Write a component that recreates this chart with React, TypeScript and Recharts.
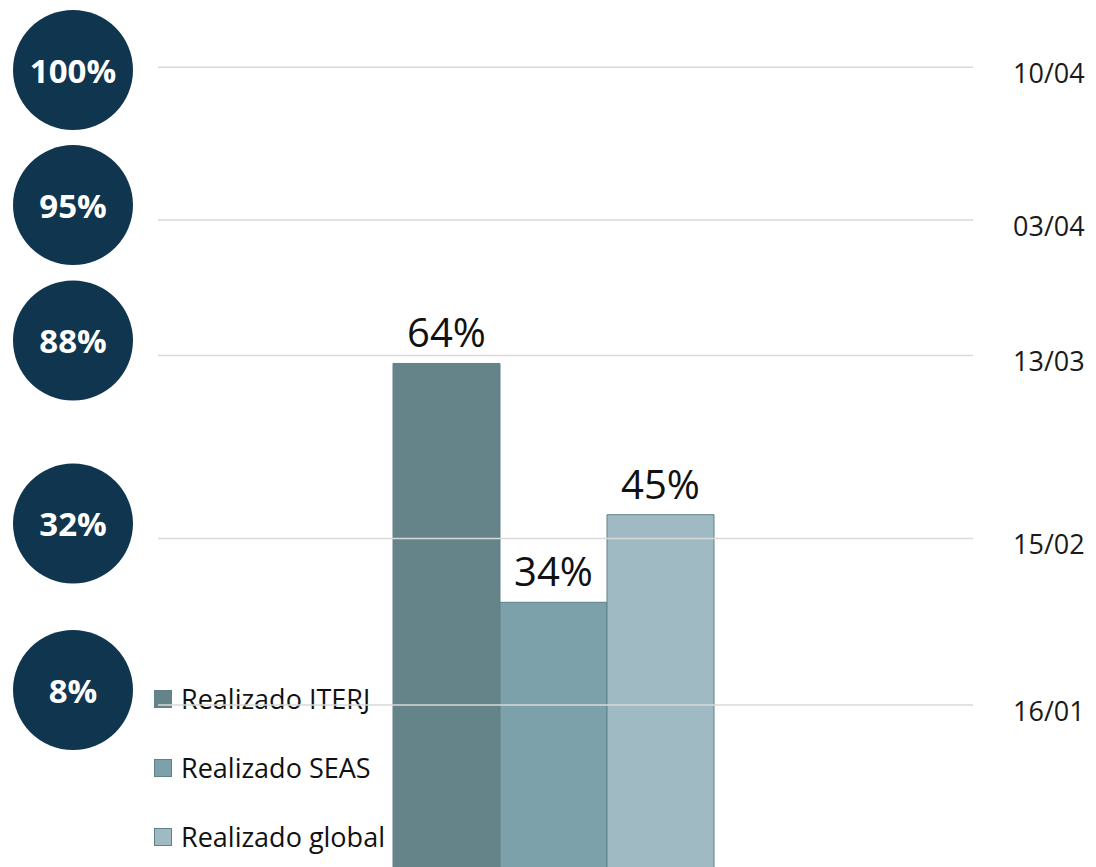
import React from 'react';
import { BarChart, Bar, XAxis, YAxis, ReferenceLine, LabelList, Legend } from 'recharts';

const categories = ['Realizado'];
const iterjValues = [64];
const seasValues = [34];
const globalValues = [45];
const seriesKeys = ['iterj', 'seas', 'global'];
const seriesNames = ['Realizado ITERJ', 'Realizado SEAS', 'Realizado global'];
const seriesColors = ['#658489', '#7ca1aa', '#9fbac2'];

const milestoneTargets = ['100%', '95%', '88%', '32%', '8%'];
const milestoneDates = ['10/04', '03/04', '13/03', '15/02', '16/01'];
const milestoneLevels = [101.2, 82, 65, 42, 21.1];

const data = categories.map((c, i) => ({
  name: c,
  iterj: iterjValues[i],
  seas: seasValues[i],
  global: globalValues[i],
}));

const FONT = "'Open Sans', sans-serif";
const R = 60;

const MilestoneLabel = (props: any) => {
  const { viewBox, target, date } = props;
  if (!viewBox) return null;
  const { x, y, width } = viewBox;
  const cx = x - 85;
  const cy = Math.max(y - 15, R + 10);
  return (
    <g>
      <circle cx={cx} cy={cy} r={R} fill="#0f354f" />
      <text
        x={cx}
        y={cy}
        textAnchor="middle"
        dominantBaseline="central"
        fill="#ffffff"
        fontFamily={FONT}
        fontWeight={700}
        fontSize={33}
      >
        {target}
      </text>
      <text
        x={x + width + 40}
        y={y + 5}
        textAnchor="start"
        dominantBaseline="central"
        fill="#1a1a1a"
        fontFamily={FONT}
        fontSize={27}
      >
        {date}
      </text>
    </g>
  );
};

const LegendContent = (props: any) => {
  const payload = props.payload || [];
  return (
    <div style={{ fontFamily: FONT }}>
      {payload.map((p: any, i: number) => (
        <div key={i} style={{ height: 69, display: 'flex', alignItems: 'center' }}>
          <span
            style={{
              display: 'inline-block',
              width: 16,
              height: 16,
              background: p.color,
              border: '1px solid #5f8189',
              marginRight: 9,
            }}
          />
          <span style={{ fontSize: 27, color: '#111', lineHeight: '30px' }}>{p.value}</span>
        </div>
      ))}
    </div>
  );
};

export default function App() {
  return (
    <div
      style={{
        position: 'absolute',
        left: 0,
        top: 0,
        width: 1096,
        height: 867,
        overflow: 'hidden',
        background: '#ffffff',
        isolation: 'isolate',
      }}
    >
      <BarChart
        width={1096}
        height={874}
        data={data}
        margin={{ top: 37, right: 123, bottom: 1, left: 158 }}
        barGap={0}
        barCategoryGap={235}
      >
        <XAxis dataKey="name" hide padding={{ left: 0, right: 25 }} />
        <YAxis type="number" domain={[0, 105]} hide />
        {seriesKeys.map((k, i) => (
          <Bar
            key={k}
            dataKey={k}
            name={seriesNames[i]}
            fill={seriesColors[i]}
            stroke="#5f8189"
            strokeWidth={1}
            isAnimationActive={false}
          >
            <LabelList
              dataKey={k}
              position="top"
              offset={16}
              fill="#111"
              fontSize={40}
              fontFamily={FONT}
              formatter={(v: any) => `${v}%`}
            />
          </Bar>
        ))}
        {milestoneLevels.map((lvl, i) => (
          <ReferenceLine
            key={i}
            y={lvl}
            stroke="#d9d9d9"
            strokeWidth={1.5}
            ifOverflow="visible"
            label={<MilestoneLabel target={milestoneTargets[i]} date={milestoneDates[i]} />}
          />
        ))}
        <Legend
          layout="horizontal"
          align="center"
          verticalAlign="middle"
          content={<LegendContent />}
          wrapperStyle={{ position: 'absolute', left: 154, top: 664, width: 260, zIndex: -1 }}
        />
      </BarChart>
    </div>
  );
}
